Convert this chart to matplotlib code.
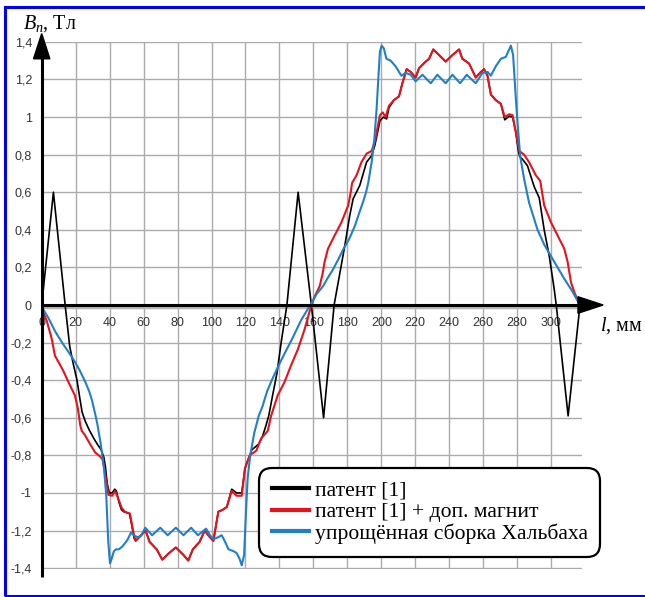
import matplotlib
matplotlib.use('Agg')
import matplotlib.pyplot as plt
from matplotlib.patches import Polygon, Rectangle
from matplotlib.lines import Line2D

plt.rcParams['font.family'] = ['Liberation Sans Narrow', 'Liberation Sans', 'DejaVu Sans']
plt.rcParams['mathtext.fontset'] = 'custom'
plt.rcParams['mathtext.rm'] = 'Liberation Serif'
plt.rcParams['mathtext.it'] = 'Liberation Serif:italic'

# ---------------- data ----------------
series_labels = ['патент [1]', 'патент [1] + доп. магнит', 'упрощённая сборка Хальбаха']

black_x = [0, 6.9, 13.8, 16.5, 18.5, 20.8, 22.5, 23.8, 25.7, 28, 30.7, 32.7, 35, 36.6, 37.5,
           38.6, 39.8, 41.5, 43, 44, 45.5, 47, 48.4, 51.7, 53, 54.4, 55.3, 58, 61.2, 63.5,
           67.7, 71, 75, 79, 83.5, 86.3, 89, 93, 96, 98.5, 101.1, 104, 106.5, 109, 111.9,
           114.8, 117.8, 119.7, 120.8, 123.8, 127.8, 130, 132.1, 133.7, 136, 138.6, 141,
           144.4, 151, 158.8, 166, 172.2, 178.5, 181.4, 183.4, 187.3, 191.3, 194.3, 196.2,
           199.2, 201.2, 203.1, 204.5, 207.4, 210.4, 212.4, 214.9, 217.3, 220.2, 222.2,
           226.1, 228.1, 230.6, 234, 237.9, 241.9, 245.8, 247.7, 251.7, 255.6, 258.6, 260.5,
           262.5, 264.5, 267.4, 270.4, 272.7, 275.3, 277.3, 279.2, 280.5, 281.5, 283.2,
           286.1, 290, 293, 295.9, 298.9, 301.8, 303, 310, 317]
black_y = [0.0, 0.60, 0.0, -0.22, -0.31, -0.40, -0.50, -0.57, -0.62, -0.665, -0.71, -0.74,
           -0.77, -0.81, -0.86, -0.95, -1.0, -1.0, -0.98, -0.99, -1.05, -1.09, -1.10, -1.11,
           -1.17, -1.24, -1.255, -1.23, -1.20, -1.26, -1.30, -1.355, -1.32, -1.29, -1.33,
           -1.36, -1.30, -1.26, -1.20, -1.23, -1.255, -1.10, -1.09, -1.075, -0.98, -1.0,
           -1.0, -0.87, -0.84, -0.77, -0.74, -0.70, -0.64, -0.59, -0.48, -0.36, -0.20,
           0.0, 0.60, 0.0, -0.60, 0.0, 0.316, 0.476, 0.565, 0.636, 0.76, 0.795, 0.85,
           0.98, 1.0, 0.99, 1.05, 1.09, 1.11, 1.18, 1.255, 1.24, 1.21, 1.26, 1.295, 1.31,
           1.36, 1.33, 1.295, 1.33, 1.36, 1.31, 1.285, 1.21, 1.24, 1.255, 1.22, 1.12, 1.09,
           1.07, 0.985, 1.005, 1.0, 0.92, 0.83, 0.79, 0.775, 0.74, 0.63, 0.57, 0.40, 0.26,
           0.085, 0.0, -0.59, 0.0]

red_x = [0, 3, 5.9, 7.8, 10.9, 12.7, 14.2, 16.8, 19.5, 21.3, 22.7, 23.6, 25.3, 28.5, 31.5,
         34.3, 35.8, 36.8, 38.3, 39.3, 41.5, 43.2, 45.1, 47.1, 49, 52, 54, 55.3, 58, 61.2,
         63.5, 67.7, 71, 75, 79, 83.5, 86.3, 89, 93, 96, 98.5, 101.1, 104, 106.5, 109,
         111.9, 114.8, 117.8, 119.7, 122.5, 126.4, 129.2, 133.1, 135.1, 139, 143, 146.9,
         150.9, 154.8, 158.8, 161, 163.7, 165.5, 166.6, 168.6, 172.5, 176.5, 180.5, 182,
         182.8, 185.4, 188.3, 191.3, 194.3, 196.2, 199.2, 200.8, 202.5, 204.5, 207.4,
         210.4, 212.4, 214.9, 217.3, 220.2, 222.2, 226.1, 228.1, 230.6, 234, 237.9, 241.9,
         245.8, 247.7, 251.7, 255.6, 258.6, 260.5, 262.5, 264.5, 267.4, 270.4, 272.7,
         275.3, 277.3, 279.2, 281.2, 284.1, 287, 291, 293.6, 295.9, 299.9, 303.8, 307.7,
         309.7, 311.7, 314, 317]
red_y = [-0.02, -0.085, -0.18, -0.27, -0.32, -0.35, -0.38, -0.43, -0.48, -0.55, -0.64,
         -0.67, -0.69, -0.74, -0.785, -0.805, -0.82, -0.87, -0.95, -1.01, -1.015, -0.99,
         -1.03, -1.08, -1.10, -1.11, -1.21, -1.255, -1.23, -1.20, -1.26, -1.30, -1.355,
         -1.32, -1.29, -1.33, -1.36, -1.30, -1.26, -1.20, -1.23, -1.255, -1.10, -1.09,
         -1.075, -0.99, -1.015, -1.015, -0.87, -0.80, -0.775, -0.71, -0.67, -0.59, -0.48,
         -0.41, -0.32, -0.235, -0.13, 0.0, 0.05, 0.10, 0.17, 0.23, 0.30, 0.37, 0.44, 0.53,
         0.60, 0.65, 0.69, 0.76, 0.805, 0.82, 0.87, 1.01, 1.025, 1.0, 1.06, 1.09, 1.11,
         1.18, 1.255, 1.24, 1.21, 1.26, 1.295, 1.31, 1.36, 1.33, 1.295, 1.33, 1.36, 1.31,
         1.285, 1.21, 1.24, 1.255, 1.22, 1.12, 1.09, 1.07, 1.0, 1.015, 1.01, 0.92, 0.82,
         0.80, 0.76, 0.69, 0.66, 0.53, 0.44, 0.37, 0.30, 0.23, 0.12, 0.06, 0.0]

blue_x = [0, 4, 7.9, 12, 15.8, 19.4, 22.5, 25.7, 28, 29.7, 31.5, 32.7, 34.6, 36.6, 38, 39.2,
          40.2, 41.2, 42.5, 43.7, 45.4, 47.5, 50.5, 52.6, 54.2, 56.3, 58.4, 61, 65, 69.8,
          74.2, 79, 83.5, 88, 92, 96.8, 99.5, 101.5, 104, 106, 108, 110, 113, 114.8, 116.5,
          117.8, 119.2, 120.3, 121.3, 122.8, 125.2, 127.8, 130, 132.7, 135.5, 139.6, 143.5,
          147.5, 152.8, 158.8, 162, 165.7, 168.5, 171.6, 174.5, 177.5, 181, 184.4, 187,
          189.3, 191, 192.3, 194.3, 195.9, 197.2, 198.2, 199.2, 200.2, 201.5, 203, 205.5,
          208.4, 211.8, 214.3, 217.3, 220.2, 224.2, 229.1, 233, 237.9, 241.9, 246.4, 250.3,
          255.6, 259.6, 262.6, 264.5, 267.4, 270.4, 273.3, 275.3, 276.3, 277.6, 279.2,
          280.2, 281.8, 284.1, 287, 292, 296, 299.9, 303.8, 307.7, 312, 317]
blue_y = [-0.01, -0.07, -0.14, -0.20, -0.25, -0.30, -0.35, -0.41, -0.46, -0.51, -0.58,
          -0.63, -0.73, -0.86, -1.01, -1.26, -1.375, -1.35, -1.31, -1.30, -1.30, -1.285,
          -1.25, -1.21, -1.225, -1.235, -1.23, -1.185, -1.225, -1.185, -1.225, -1.185,
          -1.225, -1.185, -1.225, -1.19, -1.23, -1.245, -1.235, -1.225, -1.26, -1.30,
          -1.31, -1.32, -1.35, -1.385, -1.33, -1.10, -0.92, -0.80, -0.68, -0.59, -0.54,
          -0.46, -0.40, -0.32, -0.25, -0.18, -0.08, 0.01, 0.06, 0.10, 0.145, 0.19, 0.24,
          0.295, 0.35, 0.42, 0.49, 0.55, 0.60, 0.65, 0.76, 0.885, 1.04, 1.20, 1.35, 1.38,
          1.365, 1.31, 1.30, 1.27, 1.22, 1.235, 1.225, 1.19, 1.225, 1.18, 1.225, 1.18,
          1.225, 1.18, 1.225, 1.18, 1.235, 1.24, 1.22, 1.27, 1.31, 1.32, 1.36, 1.38, 1.33,
          1.10, 0.97, 0.79, 0.67, 0.545, 0.40, 0.32, 0.26, 0.20, 0.14, 0.08, 0.0]

x_ticks = [0, 20, 40, 60, 80, 100, 120, 140, 160, 180, 200, 220, 240, 260, 280, 300]
x_tick_labels = [str(v) for v in x_ticks]
y_ticks = [1.4, 1.2, 1.0, 0.8, 0.6, 0.4, 0.2, 0.0, -0.2, -0.4, -0.6, -0.8, -1.0, -1.2, -1.4]
y_tick_labels = ['1,4', '1,2', '1', '0,8', '0,6', '0,4', '0,2', '0', '-0,2', '-0,4',
                 '-0,6', '-0,8', '-1', '-1,2', '-1,4']

colors = ['#000000', '#e8121c', '#1f80c8']

# ---------------- figure ----------------
W, H = 645, 597
fig = plt.figure(figsize=(W / 100, H / 100), dpi=100)
ax = fig.add_axes([41.7 / W, (H - 568.5) / H, 540 / W, 527 / H])
ax.set_xlim(0, 318)
ax.set_ylim(-1.402, 1.402)
for s in ax.spines.values():
    s.set_visible(False)
ax.spines['bottom'].set_position(('data', 0))

ax.set_xticks(x_ticks)
ax.set_xticklabels(x_tick_labels)
ax.set_yticks(y_ticks)
ax.set_yticklabels(y_tick_labels)
ax.tick_params(length=0, labelsize=9, labelcolor='#333333')
ax.tick_params(axis='x', pad=8.5)
ax.tick_params(axis='y', pad=7)
ax.grid(True, color='#ababab', lw=1.0)
ax.set_axisbelow(True)

ax.plot(black_x, black_y, color=colors[0], lw=1.2, zorder=3)
ax.plot(red_x, red_y, color=colors[1], lw=1.5, zorder=4)
ax.plot(blue_x, blue_y, color=colors[2], lw=1.5, zorder=5)

# axes with arrows
ax.plot([0, 317], [-0.012, -0.012], color='#b5b5b5', lw=2.5, zorder=2, clip_on=False,
        solid_capstyle='butt')
ax.plot([0, 317], [0, 0], color='black', lw=2.2, zorder=6, clip_on=False,
        solid_capstyle='butt')
ax.add_patch(Polygon([[330.6, 0], [315.8, 0.044], [315.8, -0.044]], closed=True,
                     color='black', zorder=7, clip_on=False))
ax.plot([0, 0], [-1.449, 1.32], color='black', lw=2.2, zorder=6, clip_on=False,
        solid_capstyle='butt')
ax.add_patch(Polygon([[0, 1.444], [-4.8, 1.31], [4.8, 1.31]], closed=True,
                     color='black', zorder=7, clip_on=False))

# axis labels
fig.text(23 / W, (H - 29) / H, r'$B_n$, Тл', fontsize=14.5, family='Liberation Serif',
         ha='left', va='baseline')
fig.text(600 / W, (H - 331) / H, r'$l$, мм', fontsize=14.5, family='Liberation Serif',
         ha='left', va='baseline')

# legend
handles = [Line2D([], [], color=c, lw=3.0) for c in colors]
leg = ax.legend(handles, series_labels, loc='upper left',
                bbox_to_anchor=(259 / W, (H - 468) / H), bbox_transform=fig.transFigure,
                borderaxespad=0, prop={'family': 'Liberation Serif', 'size': 15.6},
                handlelength=1.72, handletextpad=0.28, labelspacing=0.06, borderpad=0.58,
                frameon=True, fancybox=True, framealpha=1, edgecolor='black')
leg.get_frame().set_linewidth(1.6)
leg.get_frame().set_boxstyle('round', pad=0, rounding_size=0.6)
leg.set_zorder(10)

# blue outer frame
fig.patches.append(Rectangle((5 / W, 1.5 / H), 1.0, (590 - 1.5) / H, transform=fig.transFigure,
                             fill=False, ec='#0000ff', lw=2.2, clip_on=False))

fig.savefig('out.png', dpi=100)
